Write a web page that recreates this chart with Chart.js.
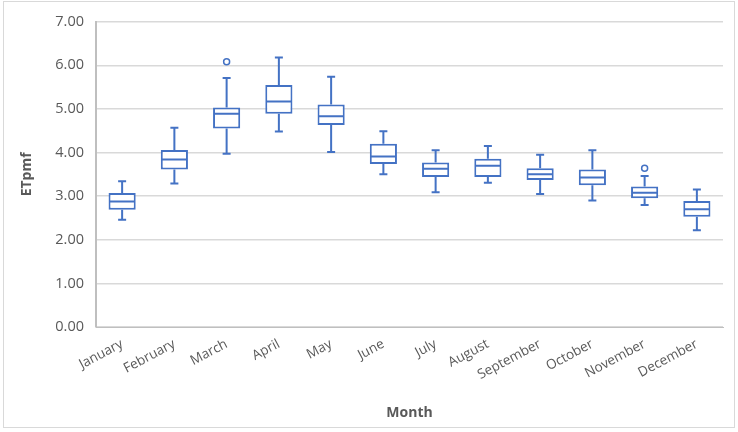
<!DOCTYPE html>
<html>
<head>
<meta charset="utf-8">
<script src="https://cdn.jsdelivr.net/npm/chart.js@4/dist/chart.umd.min.js"></script>
<style>
  html, body { margin: 0; padding: 0; background: #fff; }
  #wrap { position: absolute; left: 3px; top: 1px; width: 732px; height: 427px; border: 1px solid #d9d9d9; box-sizing: border-box; }
  #c { position: absolute; left: -3px; top: -1px; }
</style>
</head>
<body>
<div id="wrap"><canvas id="c" width="738" height="432"></canvas></div>
<script>
// box plot values
const months = ['January', 'February', 'March', 'April', 'May', 'June', 'July', 'August', 'September', 'October', 'November', 'December'];
const minVals    = [2.46, 3.29, 3.97, 4.48, 4.01, 3.50, 3.09, 3.31, 3.05, 2.90, 2.80, 2.22];
const q1Vals     = [2.69, 3.61, 4.55, 4.89, 4.63, 3.74, 3.44, 3.44, 3.37, 3.25, 2.95, 2.53];
const medianVals = [2.88, 3.84, 4.89, 5.17, 4.83, 3.91, 3.63, 3.70, 3.50, 3.43, 3.08, 2.70];
const q3Vals     = [3.07, 4.06, 5.03, 5.55, 5.10, 4.20, 3.77, 3.86, 3.64, 3.61, 3.22, 2.89];
const maxVals    = [3.34, 4.57, 5.71, 6.18, 5.74, 4.49, 4.05, 4.15, 3.95, 4.05, 3.46, 3.15];
const outliers   = [null, null, 6.08, null, null, null, null, null, null, null, 3.64, null];
const yTicks = [0, 1, 2, 3, 4, 5, 6, 7];

const blue = '#4472c4';
const grey = '#595959';

// whiskers and median lines, drawn with the chart's own scales
const whiskerPlugin = {
  id: 'whiskers',
  afterDatasetsDraw(chart) {
    const ctx = chart.ctx;
    const x = chart.scales.x, y = chart.scales.y;
    const boxes = chart.getDatasetMeta(0).data;
    ctx.save();
    ctx.strokeStyle = blue;
    ctx.lineWidth = 2;
    months.forEach((m, i) => {
      const cx = x.getPixelForValue(i);
      const half = boxes[i].width / 2;
      const cap = 4;
      const yMin = y.getPixelForValue(minVals[i]);
      const yQ1 = y.getPixelForValue(q1Vals[i]);
      const yMed = y.getPixelForValue(medianVals[i]);
      const yQ3 = y.getPixelForValue(q3Vals[i]);
      const yMax = y.getPixelForValue(maxVals[i]);
      ctx.beginPath();
      ctx.moveTo(cx, yQ3); ctx.lineTo(cx, yMax);
      ctx.moveTo(cx - cap, yMax); ctx.lineTo(cx + cap, yMax);
      ctx.moveTo(cx, yQ1); ctx.lineTo(cx, yMin);
      ctx.moveTo(cx - cap, yMin); ctx.lineTo(cx + cap, yMin);
      ctx.moveTo(cx - half + 1, yMed); ctx.lineTo(cx + half - 1, yMed);
      ctx.stroke();
    });
    ctx.restore();
  }
};

new Chart(document.getElementById('c'), {
  type: 'bar',
  data: {
    labels: months,
    datasets: [{
      label: 'box',
      data: months.map((m, i) => [q1Vals[i], q3Vals[i]]),
      backgroundColor: '#ffffff',
      borderColor: blue,
      borderWidth: 2,
      borderSkipped: false,
      barPercentage: 0.52,
      categoryPercentage: 1
    }, {
      type: 'line',
      label: 'outliers',
      data: outliers,
      showLine: false,
      pointStyle: 'circle',
      pointRadius: 3,
      pointBorderWidth: 1.5,
      pointBackgroundColor: '#ffffff',
      pointBorderColor: blue
    }]
  },
  options: {
    responsive: false,
    animation: false,
    layout: { padding: { left: 14, right: 16, top: 18, bottom: 8 } },
    plugins: { legend: { display: false }, tooltip: { enabled: false } },
    scales: {
      x: {
        grid: { display: false, drawTicks: false },
        border: { color: '#bfbfbf', width: 1 },
        ticks: { color: grey, font: { family: 'Open Sans', size: 13.5 }, minRotation: 28, maxRotation: 28, padding: 9 },
        title: { display: true, text: 'Month', color: grey, font: { family: 'Open Sans', size: 14, weight: 'bold' }, padding: { top: 4 } },
        afterFit(s) { s.height = 98; }
      },
      y: {
        min: 0, max: 7,
        afterBuildTicks(s) { s.ticks = yTicks.map(v => ({ value: v })); },
        grid: { color: '#d9d9d9', lineWidth: 1.5, drawTicks: false },
        border: { color: '#bfbfbf', width: 2 },
        ticks: { color: grey, font: { family: 'Open Sans', size: 14.5 }, padding: 12, callback: v => v.toFixed(2) },
        title: { display: true, text: 'ETpmf', color: grey, font: { family: 'Open Sans', size: 14, weight: 'bold' }, padding: { bottom: 0 } },
        afterFit(s) { s.width = 81; }
      }
    }
  },
  plugins: [whiskerPlugin]
});
</script>
</body>
</html>
